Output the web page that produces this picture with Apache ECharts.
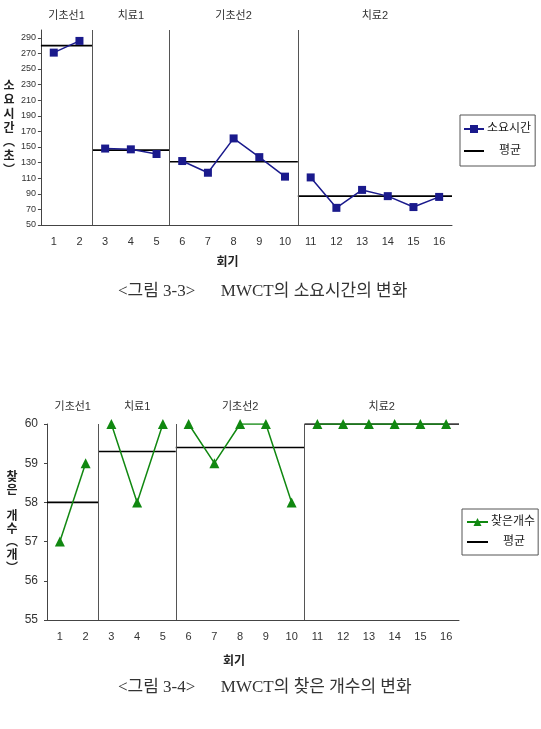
<!DOCTYPE html>
<html>
<head>
<meta charset="utf-8">
<script src="https://cdn.jsdelivr.net/npm/echarts@6/dist/echarts.min.js"></script>
<style>
  html, body { margin: 0; padding: 0; background: #fff; }
  #main { width: 541px; height: 729px; }
</style>
</head>
<body>
<div id="main"></div>
<script>
// 회기 (sessions) and phases
const sessions = ['1','2','3','4','5','6','7','8','9','10','11','12','13','14','15','16'];
const phaseNames = ['기초선1', '치료1', '기초선2', '치료2'];
const phaseEnds = [2, 5, 10, 16];

// 그림 3-3 소요시간
const timeValues = [271, 286, 148, 147, 141, 132, 117, 161, 137, 112, 111, 72, 95, 87, 73, 86];
const timeMeans = [280, 146, 131, 87];

// 그림 3-4 찾은 개수
const countValues = [57, 59, 60, 58, 60, 60, 59, 60, 60, 58, 60, 60, 60, 60, 60, 60];
const countMeans = [58, 59.3, 59.4, 60];

const FONT = 'Liberation Sans, Noto Sans CJK KR, sans-serif';

function phaseStart(p) { return p === 0 ? 0 : phaseEnds[p - 1]; }

// series for one chart: data line broken by phase, mean lines, dividers, phase labels
function buildSeries(catX, valX, yIdx, name, values, means, color, symbol, symbolSize, labelDist) {
  const out = [];
  phaseNames.forEach(function (ph, p) {
    const s = phaseStart(p), e = phaseEnds[p];
    out.push({
      name: name, type: 'line', xAxisIndex: catX, yAxisIndex: yIdx,
      data: values.map(function (v, i) { return (i >= s && i < e) ? v : '-'; }),
      symbol: symbol, symbolSize: symbolSize,
      lineStyle: { color: color, width: 1.5 },
      itemStyle: { color: color },
      z: 3
    });
  });
  phaseNames.forEach(function (ph, p) {
    const s = phaseStart(p), e = phaseEnds[p];
    const ser = {
      name: '평균', type: 'line', xAxisIndex: valX, yAxisIndex: yIdx,
      data: [[s, means[p]], [e, means[p]]],
      symbol: 'none',
      lineStyle: { color: '#000', width: 1.6 },
      itemStyle: { color: '#000' },
      z: 2
    };
    if (p === 0) {
      ser.markLine = {
        silent: true, symbol: 'none', label: { show: false },
        lineStyle: { color: '#555', width: 1, type: 'solid' },
        data: phaseEnds.slice(0, -1).map(function (x) { return { xAxis: x }; })
      };
      ser.markArea = {
        silent: true,
        itemStyle: { color: 'rgba(0,0,0,0)' },
        label: { show: true, position: 'top', distance: labelDist, color: '#333', fontSize: 11, fontFamily: FONT },
        data: phaseNames.map(function (n, q) {
          return [{ name: n, xAxis: phaseStart(q) }, { xAxis: phaseEnds[q] }];
        })
      };
    }
    out.push(ser);
  });
  return out;
}

const catAxis = function (gridIndex, nameGap) {
  return {
    type: 'category', gridIndex: gridIndex, data: sessions, boundaryGap: true,
    name: '회기', nameLocation: 'middle', nameGap: nameGap,
    nameTextStyle: { fontSize: 12, fontWeight: 'bold', color: '#222', fontFamily: FONT, padding: [0, 38, 0, 0] },
    axisLine: { lineStyle: { color: '#444', width: 1 } },
    axisTick: { inside: true, length: 4, lineStyle: { color: '#444' } },
    axisLabel: { color: '#333', fontSize: 11, margin: 11, fontFamily: FONT },
    splitLine: { show: false }
  };
};
const valAxis = function (gridIndex) {
  return { type: 'value', gridIndex: gridIndex, min: 0, max: sessions.length, show: false };
};

const meanLegendItem = { name: '평균', itemStyle: { opacity: 0 }, textStyle: { padding: [0, 0, 0, 10] } };

const chart = echarts.init(document.getElementById('main'));
chart.setOption({
  animation: false,
  backgroundColor: '#fff',
  textStyle: { fontFamily: FONT },
  grid: [
    { left: 39, top: 30, width: 413, height: 195 },
    { left: 47, top: 424, width: 412, height: 196 }
  ],
  xAxis: [catAxis(0, 32), valAxis(0), catAxis(1, 36), valAxis(1)],
  yAxis: [
    {
      type: 'value', gridIndex: 0, min: 50, max: 300, interval: 20,
      name: '소\n요\n시\n간\n︵\n초\n︶', nameLocation: 'middle', nameGap: 31, nameRotate: 0,
      nameTextStyle: { fontSize: 12, fontWeight: 'bold', color: '#222', lineHeight: 14, align: 'center', verticalAlign: 'middle', fontFamily: 'Noto Sans CJK KR' },
      axisLine: { show: true, lineStyle: { color: '#444' } },
      axisTick: { show: true, length: 3, lineStyle: { color: '#444' } },
      axisLabel: { fontSize: 9, color: '#333', margin: 5, showMaxLabel: false },
      splitLine: { show: false }
    },
    {
      type: 'value', gridIndex: 1, min: 55, max: 60, interval: 1,
      name: '찾\n은\n\n개\n수\n︵\n개\n︶', nameLocation: 'middle', nameGap: 35, nameRotate: 0,
      nameTextStyle: { fontSize: 12, fontWeight: 'bold', color: '#222', lineHeight: 13, align: 'center', verticalAlign: 'middle', fontFamily: 'Noto Sans CJK KR' },
      axisLine: { show: true, lineStyle: { color: '#444' } },
      axisTick: { show: true, length: 3, lineStyle: { color: '#444' } },
      axisLabel: { fontSize: 12, color: '#333', margin: 9 },
      splitLine: { show: false }
    }
  ],
  legend: [
    {
      data: ['소요시간', meanLegendItem], orient: 'vertical', left: 460, top: 115,
      itemWidth: 20, itemHeight: 10, itemGap: 10,
      padding: [8, 4, 9, 3], borderColor: '#555', borderWidth: 1,
      textStyle: { fontSize: 12, color: '#222', fontFamily: FONT, padding: [0, 0, 0, -2] }
    },
    {
      data: ['찾은개수', meanLegendItem], orient: 'vertical', left: 462, top: 509,
      itemWidth: 21, itemHeight: 10, itemGap: 8,
      padding: [7, 3, 7, 4], borderColor: '#555', borderWidth: 1,
      textStyle: { fontSize: 12, color: '#222', fontFamily: FONT, padding: [0, 0, 0, -2] }
    }
  ],
  graphic: [
    { type: 'text', left: 118, top: 283, style: { text: '<그림 3-3>      MWCT의 소요시간의 변화', fontSize: 17, fill: '#333', fontFamily: 'Liberation Serif, Noto Sans CJK KR' } },
    { type: 'text', left: 118, top: 679, style: { text: '<그림 3-4>      MWCT의 찾은 개수의 변화', fontSize: 17, fill: '#333', fontFamily: 'Liberation Serif, Noto Sans CJK KR' } }
  ],
  series: [].concat(
    buildSeries(0, 1, 0, '소요시간', timeValues, timeMeans, '#1a1a8c', 'rect', 8, 9),
    buildSeries(2, 3, 1, '찾은개수', countValues, countMeans, '#118811', 'triangle', 10, 12)
  )
});
</script>
</body>
</html>
